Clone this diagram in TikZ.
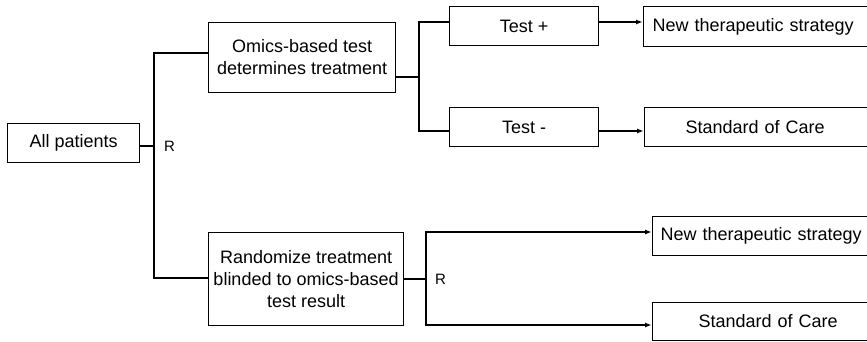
\documentclass[tikz,border=0pt]{standalone}
\usepackage{fontspec}
\setmainfont{Liberation Sans}
\usetikzlibrary{arrows.meta}
\begin{document}
\begin{tikzpicture}[x=1pt,y=-1pt,
  box/.style={draw, line width=1.1pt, inner sep=0pt, anchor=north west,
    align=center, font=\fontsize{18}{22}\selectfont},
  openbox/.style={box, align=left, minimum height=39pt},
  lbl/.style={inner sep=0pt, anchor=west, font=\fontsize{15}{18}\selectfont},
  link/.style={line width=1.1pt},
  arr/.style={line width=1.4pt, -{Latex[length=7pt,width=5pt]}},
  thickarr/.style={arr, line width=1.8pt}]
\useasboundingbox (0,0) rectangle (867,341);
\clip (0,0) rectangle (867,341);

% boxes
\node[box, minimum width=132pt, minimum height=39pt] (all) at (7,123) {All patients};
\node[box, minimum width=187pt, minimum height=70pt] (omics) at (208,22)
  {Omics-based test\\determines treatment};
\node[box, minimum width=195pt, minimum height=93pt] (rand) at (208,232)
  {Randomize treatment\\blinded to omics-based\\test result};
\node[box, minimum width=149pt, minimum height=39pt] (testp) at (449,6) {Test +};
\node[box, minimum width=149pt, minimum height=39pt] (testm) at (449,107) {Test -};

% outcome boxes run off the right edge
\node[openbox, inner xsep=9pt, text width=299pt, minimum height=40pt] (ntsA) at (643,6)
  {New therapeutic strategy};
\node[openbox, inner xsep=41pt, text width=234pt] (socA) at (644,107)
  {Standard of Care};
\node[openbox, inner xsep=8pt, text width=292pt] (ntsB) at (652,216)
  {New therapeutic strategy};
\node[openbox, inner xsep=46pt, text width=216pt, minimum height=38pt] (socB) at (652,302)
  {Standard of Care};

% junction points
\coordinate (j1) at (154,146);
\coordinate (t1) at (154,53);
\coordinate (t2) at (154,278);
\coordinate (v1) at (419,77);
\coordinate (yA) at (0,22);
\coordinate (yB) at (0,131);
\coordinate (v2) at (426,279);
\coordinate (b1) at (0,232);
\coordinate (b2) at (0,325);

% first randomisation
\draw[link] (all.east |- j1) -- (j1);
\draw[link] (j1) |- (omics.west |- t1);
\draw[link] (j1) |- (rand.west |- t2);
\node[lbl] (r1) at (164,146) {R};

% omics-guided arm
\draw[link] (omics.east |- v1) -- (v1);
\draw[link] (v1) |- (testp.west |- yA);
\draw[link] (v1) |- (testm.west |- yB);
\draw[thickarr] (testp.east |- yA) -- (ntsA.west |- yA);
\draw[arr] (testm.east |- yB) -- (socA.west |- yB);

% blinded arm
\draw[link] (rand.east |- v2) -- (v2);
\draw[arr] (v2) |- (ntsB.west |- b1);
\draw[arr] (v2) |- (socB.west |- b2);
\node[lbl] (r2) at (435,279) {R};
\end{tikzpicture}
\end{document}
